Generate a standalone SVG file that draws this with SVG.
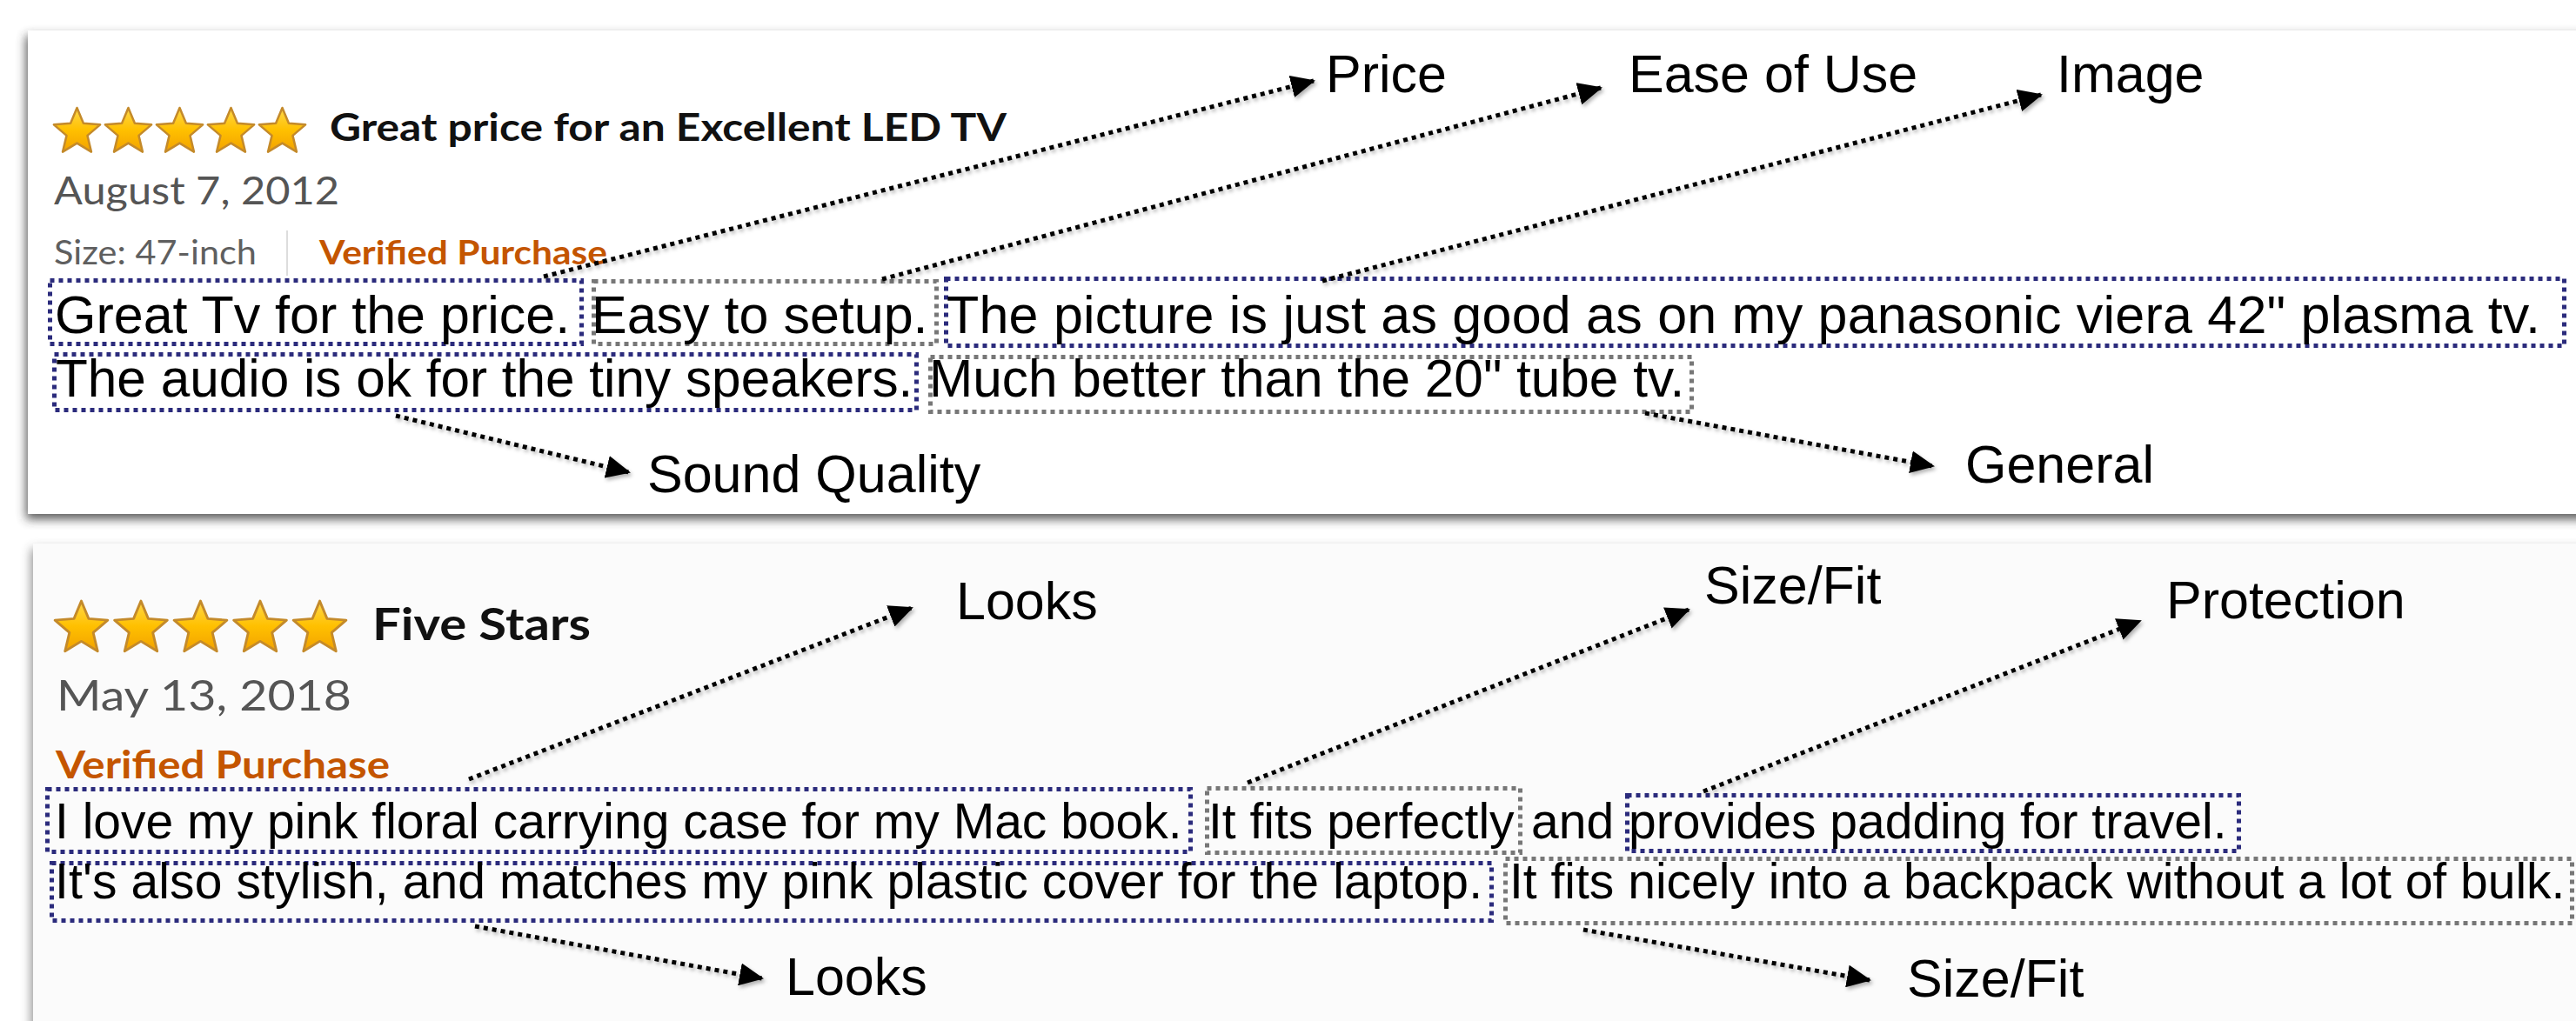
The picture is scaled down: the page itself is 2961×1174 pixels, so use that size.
<svg xmlns="http://www.w3.org/2000/svg" width="2961" height="1174" viewBox="0 0 2961 1174">
  <style>
    .seg { font-family: "Liberation Sans", Arial, sans-serif; fill: #000; }
    .r1 { font-size: 61px; }
    .r1b { font-size: 60.3px; }
    .r2 { font-size: 57px; }
    .lbl { font-family: "Liberation Sans", Arial, sans-serif; font-size: 61px; fill: #000; }
    .amz { font-family: Lato, "Open Sans", sans-serif; }
    .title { font-weight: bold; fill: #111; }
    .date { fill: #555; }
    .meta { fill: #5f5f5f; }
    .verified { font-weight: bold; fill: #c45500; }
    .box-a { fill: none; stroke: #2b2b7c; stroke-width: 5; stroke-dasharray: 5 5; }
    .box-b { fill: none; stroke: #777; stroke-width: 5; stroke-dasharray: 5 5; }
    .conn { fill: none; stroke: #000; stroke-width: 5; stroke-dasharray: 5 5; marker-end: url(#head); }
    .star { fill: url(#gold); stroke: #c48a2a; stroke-width: 2.5; stroke-linejoin: round; }
  </style>
  <defs>
    <linearGradient id="gold" x1="0" y1="0" x2="0" y2="1">
      <stop offset="0" stop-color="#ffd84a"/>
      <stop offset="0.5" stop-color="#ffc000"/>
      <stop offset="1" stop-color="#f2a200"/>
    </linearGradient>
    <filter id="cardShadow" x="-5%" y="-20%" width="110%" height="140%">
      <feGaussianBlur stdDeviation="6"/>
    </filter>
    <filter id="soft" x="-10%" y="-10%" width="120%" height="120%">
      <feDropShadow dx="2" dy="3" stdDeviation="2" flood-color="#000" flood-opacity="0.3"/>
    </filter>
    <marker id="head" markerUnits="userSpaceOnUse" markerWidth="28" markerHeight="26" viewBox="0 0 28 26" refX="26" refY="13" orient="auto">
      <path d="M0,0 L28,13 L0,26 Z" fill="#000"/>
    </marker>
    <path id="star" class="star" d="M0,-28 L7.41,-10.19 L26.63,-8.65 L11.98,3.89 L16.46,22.65 L0,12.6 L-16.46,22.65 L-11.98,3.89 L-26.63,-8.65 L-7.41,-10.19 Z"/>
  </defs>

  <!-- page -->
  <rect x="0" y="0" width="2961" height="1174" fill="#ffffff"/>

  <!-- review card 1 -->
  <g id="card-1">
    <rect x="30" y="41" width="2960" height="556" fill="#333" opacity="0.8" filter="url(#cardShadow)"/>
    <rect x="32" y="35" width="2940" height="556" fill="#ffffff"/>
    <g id="stars-1">
      <use href="#star" x="88.5" y="152"/>
      <use href="#star" x="147.5" y="152"/>
      <use href="#star" x="206.5" y="152"/>
      <use href="#star" x="265.5" y="152"/>
      <use href="#star" x="324.5" y="152"/>
    </g>
    <text class="amz title" x="379" y="162" font-size="43" textLength="778" lengthAdjust="spacingAndGlyphs">Great price for an Excellent LED TV</text>
    <text class="amz date" x="62" y="235" font-size="45" textLength="328" lengthAdjust="spacingAndGlyphs">August 7, 2012</text>
    <text class="amz meta" x="62" y="304" font-size="38" textLength="233" lengthAdjust="spacingAndGlyphs">Size: 47-inch</text>
    <line x1="330" y1="265" x2="330" y2="317" stroke="#dddddd" stroke-width="2"/>
    <text class="amz verified" x="367" y="304" font-size="38" textLength="331" lengthAdjust="spacingAndGlyphs">Verified Purchase</text>
  </g>

  <!-- review card 2 -->
  <g id="card-2">
    <rect x="36" y="631" width="2960" height="600" fill="#444" opacity="0.6" filter="url(#cardShadow)"/>
    <rect x="38" y="625" width="2940" height="560" fill="#fbfbfb"/>
    <g id="stars-2" transform="translate(0,723) scale(1.14)">
      <use href="#star" x="82" y="0"/>
      <use href="#star" x="142.1" y="0"/>
      <use href="#star" x="202.2" y="0"/>
      <use href="#star" x="262.3" y="0"/>
      <use href="#star" x="322.4" y="0"/>
    </g>
    <text class="amz title" x="428" y="736" font-size="51" textLength="251" lengthAdjust="spacingAndGlyphs">Five Stars</text>
    <text class="amz date" x="65" y="817" font-size="49" textLength="339" lengthAdjust="spacingAndGlyphs">May 13, 2018</text>
    <text class="amz verified" x="64" y="895" font-size="44" textLength="384" lengthAdjust="spacingAndGlyphs">Verified Purchase</text>
  </g>

  <!-- annotated sentence spans, review 1 -->
  <g id="span-price">
    <rect class="box-a" x="57.5" y="322.5" width="611" height="73"/>
    <text class="seg r1" x="63" y="383">Great Tv for the price.</text>
  </g>
  <g id="span-ease">
    <rect class="box-b" x="682.5" y="323.5" width="394" height="72"/>
    <text class="seg r1" x="680" y="383">Easy to setup.</text>
  </g>
  <g id="span-image">
    <rect class="box-a" x="1087.5" y="320.5" width="1860" height="77"/>
    <text class="seg r1" x="1088" y="383" textLength="1832">The picture is just as good as on my panasonic viera 42" plasma tv.</text>
  </g>
  <g id="span-sound">
    <rect class="box-a" x="62.5" y="407.5" width="991" height="64"/>
    <text class="seg r1b" x="64" y="456">The audio is ok for the tiny speakers.</text>
  </g>
  <g id="span-general">
    <rect class="box-b" x="1069.5" y="410.5" width="875" height="63"/>
    <text class="seg r1b" x="1068" y="456">Much better than the 20" tube tv.</text>
  </g>

  <!-- annotated sentence spans, review 2 -->
  <g id="span-looks-1">
    <rect class="box-a" x="54.5" y="907.5" width="1314" height="72"/>
    <text class="seg r2" x="63" y="964">I love my pink floral carrying case for my Mac book.</text>
  </g>
  <g id="span-fit-1">
    <rect class="box-b" x="1387.5" y="906.5" width="360" height="74"/>
    <text class="seg r2" x="1389" y="964">It fits perfectly</text>
  </g>
  <text class="seg r2" x="1760" y="964">and</text>
  <g id="span-protection">
    <rect class="box-a" x="1870.5" y="914.5" width="703" height="64"/>
    <text class="seg r2" x="1872" y="964">provides padding for travel.</text>
  </g>
  <g id="span-looks-2">
    <rect class="box-a" x="59.5" y="992.5" width="1655" height="66"/>
    <text class="seg r2" x="63" y="1033" textLength="1641">It's also stylish, and matches my pink plastic cover for the laptop.</text>
  </g>
  <g id="span-fit-2">
    <rect class="box-b" x="1730.5" y="987.5" width="1226" height="74"/>
    <text class="seg r2" x="1735" y="1033">It fits nicely into a backpack without a lot of bulk.</text>
  </g>

  <!-- aspect labels -->
  <g id="label-price"><text class="lbl" x="1524" y="106">Price</text></g>
  <g id="label-ease"><text class="lbl" x="1872" y="106">Ease of Use</text></g>
  <g id="label-image"><text class="lbl" x="2364" y="106">Image</text></g>
  <g id="label-sound"><text class="lbl" x="744" y="566">Sound Quality</text></g>
  <g id="label-general"><text class="lbl" x="2259" y="555">General</text></g>
  <g id="label-looks-1"><text class="lbl" x="1099" y="712">Looks</text></g>
  <g id="label-fit-1"><text class="lbl" x="1959" y="694">Size/Fit</text></g>
  <g id="label-protection"><text class="lbl" x="2490" y="711">Protection</text></g>
  <g id="label-looks-2"><text class="lbl" x="903" y="1144">Looks</text></g>
  <g id="label-fit-2"><text class="lbl" x="2192" y="1146">Size/Fit</text></g>

  <!-- connectors from spans to aspect labels -->
  <g id="connectors" filter="url(#soft)">
    <path class="conn" d="M625,318 L1510,93"/>
    <path class="conn" d="M1014,321 L1840,101"/>
    <path class="conn" d="M1520,323 L2346,109"/>
    <path class="conn" d="M455,478 L723,543"/>
    <path class="conn" d="M1891,475 L2222,536"/>
    <path class="conn" d="M539,896 L1048,699"/>
    <path class="conn" d="M1434,900 L1941,701"/>
    <path class="conn" d="M1958,910 L2460,714"/>
    <path class="conn" d="M546,1065 L876,1125"/>
    <path class="conn" d="M1820,1069 L2149,1127"/>
  </g>
</svg>
